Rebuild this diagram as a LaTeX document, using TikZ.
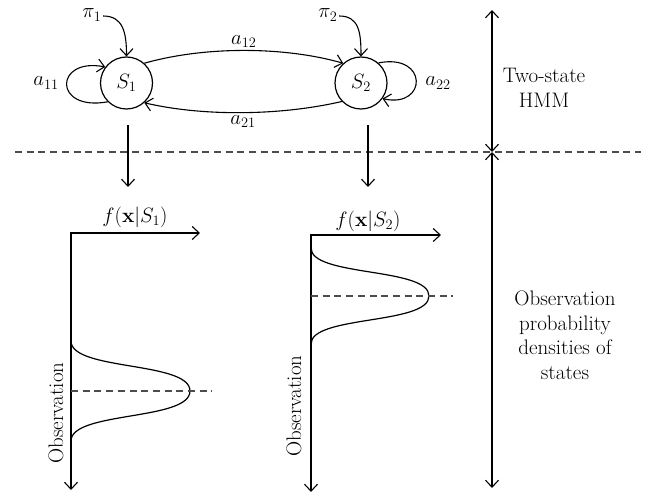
\documentclass[tikz,border=0pt]{standalone}
\usetikzlibrary{arrows.meta}
\begin{document}
\begin{tikzpicture}[x=1pt,y=-1pt, line width=1.1pt,
  every node/.style={font=\fontsize{21}{24.5}\selectfont},
  state/.style={circle,draw,line width=1.2pt,minimum size=52pt,inner sep=0pt},
  arr/.style={-{Straight Barb[length=7pt,width=13pt]}},
  darr/.style={{Straight Barb[length=7pt,width=13pt]}-{Straight Barb[length=7pt,width=13pt]}},
  sep/.style={dash pattern=on 7pt off 4.7pt, black!70},
  lbl/.style={inner sep=1pt}]
\useasboundingbox (0,0) rectangle (648,497);

% states
\node[state] (S1) at (126.5,83) {$S_1$};
\node[state] (S2) at (361,83) {$S_2$};

% initial probabilities
\node[lbl] (pi1) at (92,15) {$\pi_1$};
\node[lbl] (pi2) at (328,15) {$\pi_2$};
\draw[arr] ([yshift=-1pt]pi1.east) .. controls +(20,0) and +(0,-24) .. (S1.north);
\draw[arr] ([yshift=-1pt]pi2.east) .. controls +(20,0) and +(0,-24) .. (S2.north);

% transitions
\draw[arr] (S1.48) .. controls +(60,-17) and +(-60,-17) .. (S2.132)
  node[pos=0.5, above=1pt, lbl] (a12) {$a_{12}$};
\draw[arr] (S2.224) .. controls +(-60,14) and +(60,14) .. (S1.312)
  node[pos=0.5, below=1pt, lbl] (a21) {$a_{21}$};
\draw[arr] (S1.225) .. controls +(-55,10) and +(-51,-10) .. (S1.143);
\draw[arr] (S2.49) .. controls +(50,-10) and +(45,10) .. (S2.324);
\node[lbl] (a11) at (46,83) {$a_{11}$};
\node[lbl] (a22) at (438,83) {$a_{22}$};

% separator
\coordinate (sl) at (15,152);
\coordinate (sr) at (641,152);
\draw[sep] (sl) -- (sr);

% down arrows
\coordinate (d1a) at (128,125); \coordinate (d1b) at (128,187);
\coordinate (d2a) at (368,125); \coordinate (d2b) at (368,187);
\draw[arr] (d1a) -- (d1b);
\draw[arr] (d2a) -- (d2b);

% right side brackets
\coordinate (r0) at (492,10);
\coordinate (r1) at (492,152);
\coordinate (r2) at (492,488);
\draw[darr] (r0) -- (r1);
\draw[darr] (r1) -- (r2);
\node[align=center] (hmm) at (544,88) {Two-state\\HMM};
\node[align=center] (obs) at (565,335) {Observation\\probability\\densities of\\states};

% plot 1
\coordinate (o1) at (71,233);
\coordinate (x1) at (200,233);
\coordinate (y1) at (71,490);
\draw[darr] (y1) -- (o1) -- (x1);
\node (f1) at (135,217) {$f(\mathbf{x}|S_1)$};
\node[rotate=90] (ob1) at (56,413) {Observation};
\draw[line width=1.2pt] (71,341) .. controls (71,371) and (190,361) .. (190,391)
  .. controls (190,421) and (71,411) .. (71,441);
\draw[sep] (71,391) -- (212,391);

% plot 2
\coordinate (o2) at (311,235);
\coordinate (x2) at (441,235);
\coordinate (y2) at (311,492);
\draw[darr] (y2) -- (o2) -- (x2);
\node (f2) at (368,221) {$f(\mathbf{x}|S_2)$};
\node[rotate=90] (ob2) at (294,406) {Observation};
\draw[line width=1.2pt] (311,248) .. controls (311,277) and (429,267) .. (429,296)
  .. controls (429,325) and (311,315) .. (311,344);
\draw[sep] (311,296) -- (453,296);
\end{tikzpicture}
\end{document}
